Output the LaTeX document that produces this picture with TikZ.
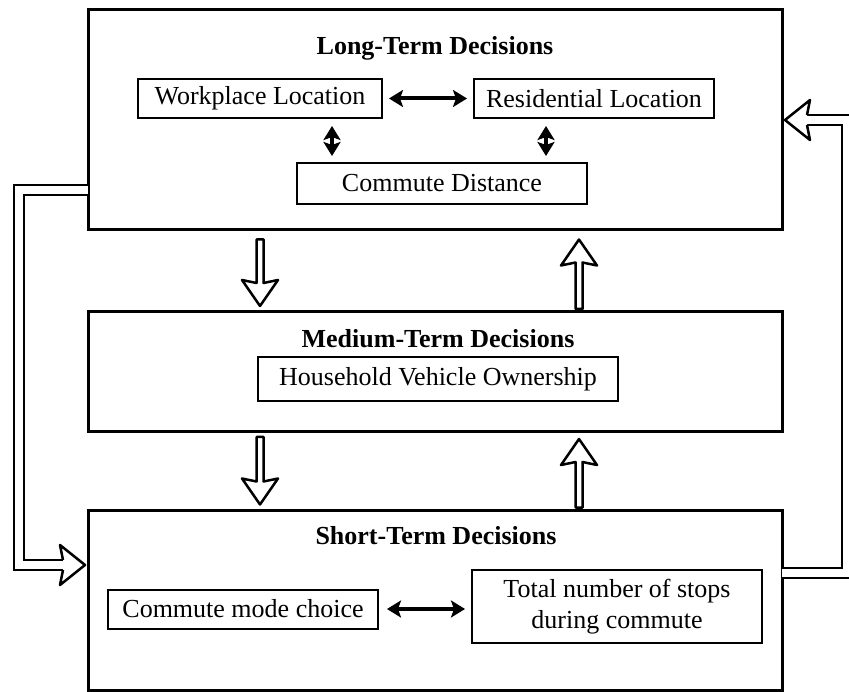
\documentclass[tikz,border=0pt]{standalone}
\usepackage{fontspec}
\setmainfont{Liberation Serif}
\usetikzlibrary{arrows.meta,calc}
\newcommand\HollowDown[2]{\draw[hollow] ($(#1)+(-3.5,0)$) -- ($(#2)+(-3.5,-23)$) -- ($(#2)+(-18,-26)$) -- (#2) -- ($(#2)+(18,-26)$) -- ($(#2)+(3.5,-23)$) -- ($(#1)+(3.5,0)$) -- cycle;}
\newcommand\HollowUp[2]{\draw[hollow] ($(#1)+(-3.5,0)$) -- ($(#2)+(-3.5,23)$) -- ($(#2)+(-18,26)$) -- (#2) -- ($(#2)+(18,26)$) -- ($(#2)+(3.5,23)$) -- ($(#1)+(3.5,0)$) -- cycle;}
\begin{document}
\begin{tikzpicture}[x=1pt,y=-1pt,
  bigbox/.style={draw, line width=3pt, inner sep=0pt},
  smallbox/.style={draw, line width=2pt, inner sep=0pt, align=center,
    font=\fontsize{26}{31}\selectfont},
  titletext/.style={inner sep=0pt, font=\fontsize{26}{31}\selectfont\bfseries},
  dblarrow/.style={line width=4pt,
    {Stealth[length=14pt,width=17pt,inset=3pt]}-{Stealth[length=14pt,width=17pt,inset=3pt]}},
  hollow/.style={line width=2.5pt, fill=white, line join=round},
  dblline/.style={line width=2.5pt, double distance=7.5pt, line join=miter},
  hhead/.pic={\draw[line width=2.5pt, fill=white, line join=round]
     (-22,-5) -- (-25,-20) -- (0,0) -- (-25,20) -- (-22,5);}
]
\useasboundingbox (0,0) rectangle (849,692);

% big boxes
\node[bigbox, minimum width=694pt, minimum height=220pt] (top) at (435,120) {};
\node[bigbox, minimum width=694pt, minimum height=120pt] (mid) at (435,371.5) {};
\node[bigbox, minimum width=694pt, minimum height=180pt] (bot) at (435,600) {};

% titles
\node[titletext] (ttop) at (435,48) {Long-Term Decisions};
\node[titletext] (tmid) at (438,339) {Medium-Term Decisions};
\node[titletext] (tbot) at (436,536) {Short-Term Decisions};

% small boxes
\node[smallbox, minimum width=244pt, minimum height=39pt] (wp) at (260,98.5) {Workplace Location};
\node[smallbox, minimum width=240pt, minimum height=39pt] (rl) at (594,98.5) {Residential Location};
\node[smallbox, minimum width=290pt, minimum height=41pt] (cd) at (442,183.5) {Commute Distance};
\node[smallbox, minimum width=360pt, minimum height=44pt] (hv) at (438,379) {Household Vehicle Ownership};
\node[smallbox, minimum width=270pt, minimum height=39pt] (cm) at (243,609) {Commute mode choice};
\node[smallbox, minimum width=290pt, minimum height=73pt] (ts) at (617,606.5) {Total number of stops\\during commute};

% solid double arrows
\draw[dblarrow] ($(wp.east)+(6,0)$) -- ($(rl.west)+(-6,0)$);
\draw[dblarrow] ($(wp.south -| 332,0)+(0,7)$) -- ($(cd.north -| 332,0)+(0,-6)$);
\draw[dblarrow] ($(rl.south -| 546,0)+(0,7)$) -- ($(cd.north -| 546,0)+(0,-6)$);
\draw[dblarrow] ($(cm.east)+(8,0)$) -- ($(ts.west |- cm.east)+(-6,0)$);

% hollow arrows between levels
\coordinate (d1s) at ($(top.south -| 260,0)+(0,8)$);
\coordinate (d1e) at ($(mid.north -| 260,0)+(0,-4)$);
\HollowDown{d1s}{d1e}
\coordinate (u1s) at ($(mid.north -| 579,0)+(0,-1)$);
\coordinate (u1e) at ($(top.south -| 579,0)+(0,8)$);
\HollowUp{u1s}{u1e}
\coordinate (d2s) at ($(mid.south -| 260,0)+(0,4)$);
\coordinate (d2e) at ($(bot.north -| 260,0)+(0,-4)$);
\HollowDown{d2s}{d2e}
\coordinate (u2s) at ($(bot.north -| 579,0)+(0,-1)$);
\coordinate (u2e) at ($(mid.south -| 579,0)+(0,6)$);
\HollowUp{u2s}{u2e}

% feedback loops
\coordinate (ls) at (top.west |- 0,190);
\coordinate (lt) at ($(bot.west |- 0,565)+(-1.5,0)$);
\draw[dblline] ($(ls)+(1.5,0)$) -- (19,190) -- (19,565) -- ($(lt)+(-22,0)$);
\pic at (lt) {hhead};

\coordinate (rs) at (bot.east |- 0,573);
\coordinate (rt) at ($(top.east |- 0,120)+(1.5,0)$);
\draw[dblline] ($(rs)+(-1.5,0)$) -- (847,573) -- (847,120) -- ($(rt)+(22,0)$);
\pic[rotate=180] at (rt) {hhead};
\end{tikzpicture}
\end{document}
